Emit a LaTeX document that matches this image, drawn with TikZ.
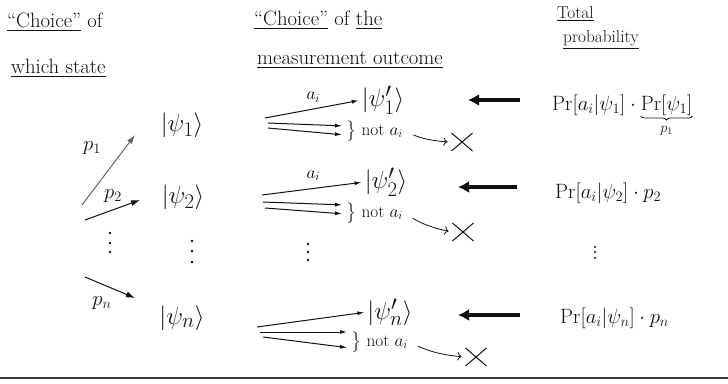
\documentclass[tikz,border=0pt]{standalone}
\usepackage{amsmath,amssymb}
\usepackage{xcolor}
\usepackage{tikz}
\usetikzlibrary{arrows.meta,positioning,calc,shapes.misc,decorations.pathreplacing}
\definecolor{ink}{HTML}{111111}
\definecolor{frame}{HTML}{3A3A3A}
\tikzset{
  head/.style={anchor=west,inner sep=1pt,font=\huge,text=ink},
  ket/.style={inner sep=0pt,font=\Huge,text=ink},
  plabel/.style={inner sep=1pt,font=\huge,text=ink},
  outc/.style={anchor=west,inner sep=1pt,font=\LARGE,text=ink},
  total/.style={anchor=base west,inner sep=0pt,font=\huge,text=ink},
  cross/.style={cross out,draw=ink,line width=1pt,minimum width=20pt,minimum height=17pt},
  arrow/.style={-{Latex[length=9pt,width=6pt]},draw=ink,line width=1pt},
  fan/.style={-{Latex[length=7pt,width=4pt]},draw=ink,line width=1pt,shorten >=3pt},
  back/.style={-{Latex[length=11pt,width=12pt]},draw=ink,line width=3.5pt},
  drop/.style={-{To[length=4pt]},draw=ink,line width=.8pt,shorten <=10pt,shorten >=4pt},
  ubrace/.style={decorate,decoration={brace,amplitude=4pt},draw=ink,line width=.8pt}
}
\begin{document}
\begin{tikzpicture}[x=1pt,y=-1pt]
\useasboundingbox (0,0) rectangle (728,383);
\node[head] (hs1) at (6,22) {\underline{``Choice''} of};
\node[head] (hs2) at (10,68) {\underline{which state}};
\node[head] (hm1) at (253,20) {\underline{``Choice''} of \underline{the}};
\node[head] (hm2) at (256,60) {\underline{measurement outcome}};
\node[head,font=\LARGE] (ht1) at (556,14) {\underline{Total}};
\node[head,font=\LARGE] (ht2) at (562,40) {\underline{probability}};

\node[ket] (s1) at (182,125) {$|\psi_1\rangle$};
\node[ket] (s2) at (183,197) {$|\psi_2\rangle$};
\node[ket] (sn) at (182,318) {$|\psi_n\rangle$};

\coordinate (p1s) at (82,205);
\coordinate (p1e) at (135,135);
\coordinate (p2s) at (85,220);
\coordinate (p2e) at (140,200);
\coordinate (pns) at (85,277);
\coordinate (pne) at (135,298);
\draw[arrow,draw=ink!65] (p1s)--(p1e);
\draw[arrow] (p2s)--(p2e);
\draw[arrow] (pns)--(pne);
\node[plabel] (l1) at (92,148) {$p_1$};
\node[plabel] (l2) at (113,196) {$p_2$};
\node[plabel] (ln) at (102,303) {$p_n$};

\node[ket] (k1) at (383,100) {$|\psi_1'\rangle$};
\node[ket] (k2) at (386,182) {$|\psi_2'\rangle$};
\node[ket] (kn) at (390,312) {$|\psi_n'\rangle$};
\node[outc] (n1) at (345,131) {$\big\}$ not $a_i$};
\node[outc] (n2) at (345,213) {$\big\}$ not $a_i$};
\node[outc] (nn) at (350,342) {$\big\}$ not $a_i$};
\node[cross] (x1) at (462,142) {};
\node[cross] (x2) at (463,232) {};
\node[cross] (xn) at (476,357) {};

\coordinate (f1) at (265,118);
\coordinate (f2) at (262,195);
\coordinate (fn) at (257,327);
\draw[fan] (f1)--(k1.west) node[midway,above=3pt,font=\LARGE] (a1) {$a_i$};
\draw[fan] ($(f1)+(3,5)$)--($(n1.west)+(0,-5)$);
\draw[fan] ($(f1)+(3,10)$)--($(n1.west)+(0,4)$);
\draw[fan] (f2)--(k2.west) node[midway,above=4pt,font=\LARGE] (a2) {$a_i$};
\draw[fan] ($(f2)+(1,7)$)--($(n2.west)+(0,-8)$);
\draw[fan] ($(f2)+(3,13)$)--($(n2.west)+(0,1)$);
\draw[fan] (fn)--(kn.west);
\draw[fan] ($(fn)+(3,5)$)--($(nn.west)+(0,-10)$);
\draw[fan] ($(fn)+(6,10)$)--($(nn.west)+(0,6)$);
\draw[drop] (n1.east) to[bend right=10] (x1.west);
\draw[drop] (n2.east) to[bend right=10] (x2.west);
\draw[drop] (nn.east) to[bend right=10] (xn.west);

\foreach \y in {233,243,252} \fill[ink] (110,\y) circle (1.4pt);
\foreach \y in {241,251,262} \fill[ink] (192,\y) circle (1.4pt);
\foreach \y in {244,252,260} \fill[ink] (308,\y) circle (1.4pt);
\foreach \y in {247,252,258} \fill[ink] (595,\y) circle (1.2pt);

\node[total] (r1) at (552,110) {$\Pr[a_i|\psi_1]\cdot{}$};
\node[total,right=0pt of r1.base east,anchor=base west] (r1p) {$\Pr[\psi_1]$};
\draw[ubrace] ($(r1p.base east)+(0,6)$)--($(r1p.base west)+(0,6)$);
\node[plabel,font=\Large,below=15pt of r1p.base] (w1) {$p_1$};
\node[total] (r2) at (555,198) {$\Pr[a_i|\psi_2]\cdot p_2$};
\node[total] (rn) at (560,323) {$\Pr[a_i|\psi_n]\cdot p_n$};
\coordinate (b1) at (468,100);
\coordinate (b2) at (458,187);
\coordinate (bn) at (458,315);
\draw[back] ($(r1.base west)+(-32,-10)$)--(b1);
\draw[back] ($(r2.base west)+(-38,-11)$)--(b2);
\draw[back] ($(rn.base west)+(-40,-8)$)--(bn);

\draw[line width=2pt,frame] (0,378)--(728,378);
\end{tikzpicture}
\end{document}
